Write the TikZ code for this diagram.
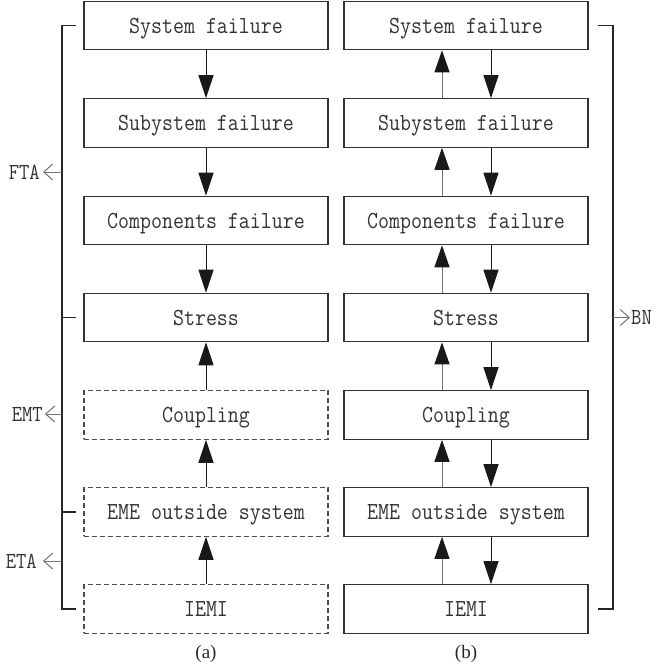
\documentclass[tikz,border=0pt]{standalone}
\usepackage{fontspec}
\setmainfont{Liberation Serif}
\newfontfamily\boxfont[FakeStretch=0.87]{Latin Modern Mono}
\usetikzlibrary{arrows.meta}
\begin{document}
\begin{tikzpicture}[x=1pt,y=-1pt,
  box/.style={draw=black!80, line width=1.1pt, minimum width=244pt, minimum height=48.5pt,
    inner sep=0pt, text height=15pt, text depth=0pt,
    font=\boxfont\fontsize{24.5}{26}\selectfont, text=black!80},
  dbox/.style={box, dash pattern=on 5pt off 3pt, draw=black!70},
  arr/.style={line width=1pt, draw=black!90, -{Triangle[length=23pt,width=15pt,fill=black!90]}},
  uarr/.style={line width=1pt, draw=black!55, -{Triangle[length=22pt,width=15pt,fill=black!90,color=black!90]}},
  brk/.style={line width=1.1pt, draw=black!85},
  lab/.style={line width=1pt, draw=black!55, -{Straight Barb[length=9pt,width=16pt]}},
  lbl/.style={inner sep=0pt, font=\boxfont\fontsize{23}{24}\selectfont, text=black!80},
  captext/.style={inner sep=0pt, font=\fontsize{19}{20}\selectfont, text=black!85}
]
\useasboundingbox (0,0) rectangle (656,670);
% (a) column
\node[box]  (a1) at (206,25.5)  {System failure};
\node[box]  (a2) at (206,123)   {Subystem failure};
\node[box]  (a3) at (206,220.5) {Components failure};
\node[box]  (a4) at (206,317.5) {Stress};
\node[dbox] (a5) at (206,415)   {Coupling};
\node[dbox] (a6) at (206,512)   {EME outside system};
\node[dbox] (a7) at (206,609)   {IEMI};
\draw[arr] (a1) -- (a2);
\draw[arr] (a2) -- (a3);
\draw[arr] (a3) -- (a4);
\draw[arr] (a5) -- (a4);
\draw[arr] (a6) -- (a5);
\draw[arr] (a7) -- (a6);
% (b) column
\node[box] (b1) at (466,25.5)  {System failure};
\node[box] (b2) at (466,123)   {Subystem failure};
\node[box] (b3) at (466,220.5) {Components failure};
\node[box] (b4) at (466,317.5) {Stress};
\node[box] (b5) at (466,415)   {Coupling};
\node[box] (b6) at (466,512)   {EME outside system};
\node[box] (b7) at (466,609)   {IEMI};
\foreach \u/\l in {b1/b2,b2/b3,b3/b4,b4/b5,b5/b6,b6/b7}{
  \draw[arr]  ([xshift=25pt]\u.south) -- ([xshift=25pt]\l.north);
  \draw[uarr] ([xshift=-24pt]\l.north) -- ([xshift=-24pt]\u.south);
}
% left bracket
\coordinate (Ltop) at (62,25.5);
\coordinate (Lbot) at (62,609);
\draw[brk] ([xshift=-7pt]a1.west) -- (Ltop) -- (Lbot) -- ([xshift=-7pt]a7.west);
\draw[brk] (Ltop |- a4.west) -- ([xshift=-7pt]a4.west);
\draw[brk] (Ltop |- a6.west) -- ([xshift=-7pt]a6.west);
\node[lbl, anchor=east] (tFTA) at (40,172) {FTA};
\node[lbl, anchor=east] (tEMT) at (43,414) {EMT};
\node[lbl, anchor=east] (tETA) at (37,561) {ETA};
\draw[lab] (Ltop |- tFTA) -- ([xshift=3pt]tFTA.east);
\draw[lab] (Ltop |- tEMT) -- ([xshift=2pt]tEMT.east);
\draw[lab] (Ltop |- tETA) -- ([xshift=6pt]tETA.east);
% right bracket
\coordinate (Rtop) at (613,25.5);
\coordinate (Rbot) at (613,609);
\draw[brk] ([xshift=9pt]b1.east) -- (Rtop) -- (Rbot) -- ([xshift=9pt]b7.east);
\node[lbl, anchor=west] (tBN) at (631,317.5) {BN};
\draw[lab] (Rtop |- tBN) -- ([xshift=-1pt]tBN.west);
% captions
\node[captext] (capa) at (206,654) {(a)};
\node[captext] (capb) at (466,654) {(b)};
\end{tikzpicture}
\end{document}
